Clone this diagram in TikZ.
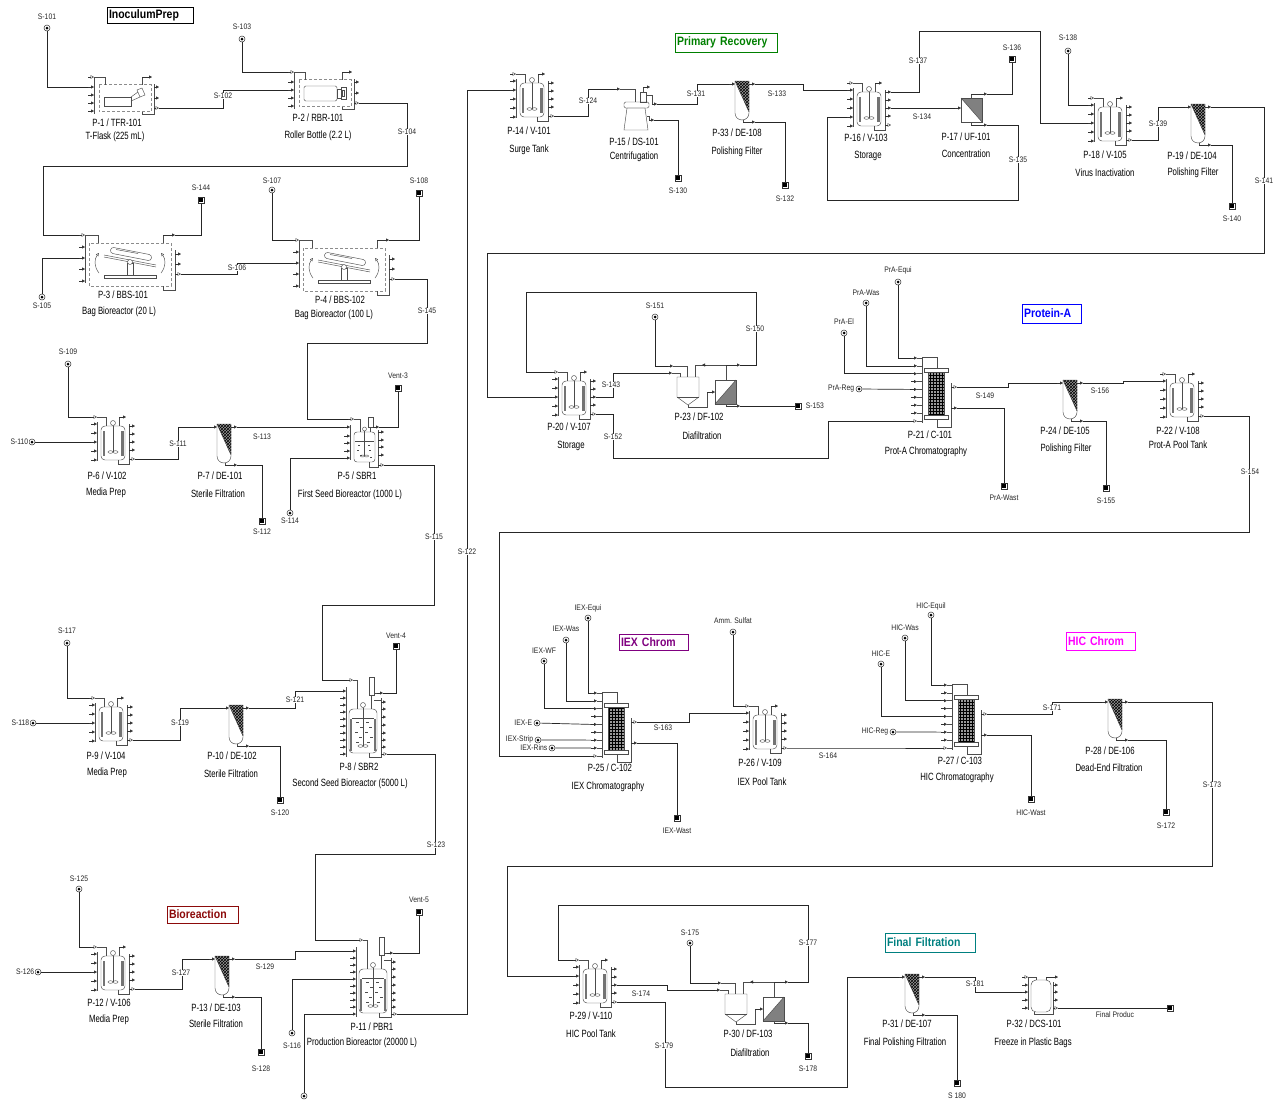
\documentclass[tikz,border=0pt]{standalone}
\usepackage{fontspec}
\setmainfont{Liberation Sans}
\newfontfamily\unitfont{Liberation Sans}[FakeStretch=0.74]
\newfontfamily\strfont{Liberation Sans}[FakeStretch=0.85]
\newfontfamily\sectfont{Liberation Sans}[FakeStretch=0.86]
\usepackage{tikz}
\usetikzlibrary{arrows.meta,patterns}

\definecolor{prgreen}{RGB}{0,128,0}
\definecolor{protblue}{RGB}{0,0,255}
\definecolor{iexpurple}{RGB}{128,0,128}
\definecolor{hicmagenta}{RGB}{255,0,255}
\definecolor{biored}{RGB}{140,10,10}
\definecolor{finteal}{RGB}{0,128,128}

\newcommand\flaskframe{%
  \draw[eq, densely dashed, draw=black!45] (-26,-13.5) rectangle (26,13.5);
  \draw[eq] (-31,-21) -- (-31,16);
  \coordinate (-tin) at (-37,-21);
  \draw[oport] (-37,-21) -- (-31,-21);
  \draw[eq] (-31,-21) -- (-20,-21) -- (-20,-13.5);
  \foreach \k/\y in {1/-11,2/-3,3/5,4/13}{
    \coordinate (-l\k) at (-37,\y);
    \draw[port] (-37,\y) -- (-31,\y);}
  \draw[eq] (17,-13.5) -- (17,-21);
  \coordinate (-tout) at (27,-21);
  \draw[port] (17,-21) -- (27,-21);
  \draw[eq] (29,-14) -- (29,16) -- (17,16) -- (17,13.5);
  \coordinate (-r1) at (34,-11);
  \draw[port] (29,-11) -- (34,-11);
  \coordinate (-r2) at (34,0);
  \draw[port] (29,0) -- (34,0);
  \coordinate (-out) at (34,10);
  \draw[oport] (29,10) -- (34,10);}

\tikzset{
  eq/.style={draw=black!70, line width=0.45pt},
  stream/.style={draw=black!85, line width=0.7pt},
  port/.style={draw=black!80, line width=0.45pt, -{Triangle[length=3pt,width=3pt]}},
  oport/.style={draw=black!80, line width=0.45pt, -{Triangle[open,length=3.5pt,width=3.5pt]}},
  jack/.style={fill=black!55},
  src/.style={circle, draw=black!80, line width=0.5pt, fill=white, minimum size=6pt, inner sep=0pt,
    path picture={\fill[black] (path picture bounding box.center) circle (1.5pt);}},
  snk/.style={rectangle, draw=black!80, line width=0.5pt, fill=white, minimum size=6.5pt, inner sep=0pt,
    path picture={\fill[black] ([xshift=1.4pt,yshift=1.4pt]path picture bounding box.south west)
      rectangle ([xshift=-1.4pt,yshift=-1.4pt]path picture bounding box.north east);}},
  slab/.style={font=\strfont\fontsize{8}{8}\selectfont, text=black!85, fill=white, inner sep=0.6pt},
  ulab/.style={font=\unitfont\fontsize{10.5}{11}\selectfont, inner sep=0pt},
  sect/.style={rectangle, line width=0.8pt, inner sep=2pt, align=left,
    font=\sectfont\bfseries\fontsize{12.2}{12.5}\selectfont},
  pics/vessel/.style={code={
    \draw[eq, rounded corners=4pt] (-12,-17) rectangle (12,17);
    \fill[jack] (-10.5,-12) rectangle (-8,13);
    \fill[jack] (8,-12) rectangle (10.5,13);
    \draw[eq] (0,-17.5) -- (0,9);
    \draw[eq] (0,-20) circle (2.5pt);
    \draw[eq] (-2.5,9) ellipse (2.5pt and 1.3pt);
    \draw[eq] (2.5,9) ellipse (2.5pt and 1.3pt);
    \draw[eq] (-16,-21) -- (-16,18);
    \foreach \k/\y in {1/-19,2/-10,3/-1,4/8,5/17}{
      \coordinate (-l\k) at (-22,\y);
      \draw[port] (-22,\y) -- (-16,\y);}
    \coordinate (-tin) at (-22,-26);
    \draw[oport] (-22,-26) -- (-16,-26);
    \draw[eq] (-16,-26) -- (-7,-26) -- (-7,-17);
    \draw[eq] (6,-17) -- (6,-26);
    \coordinate (-tout) at (13,-26);
    \draw[port] (6,-26) -- (13,-26);
    \draw[eq] (16,-19) -- (16,21) -- (5,21) -- (5,17);
    \foreach \k/\y in {1/-17,2/-9,3/-1,4/7}{
      \coordinate (-r\k) at (22,\y);
      \draw[port] (16,\y) -- (22,\y);}
    \coordinate (-out) at (22,16);
    \draw[oport] (16,16) -- (22,16);}},
  pics/seedbr/.style={code={
    \draw[eq, rounded corners=3pt] (-10,-15) rectangle (11,15);
    \draw[eq] (-9,-6) -- (10,-6);
    \foreach \x/\y in {-6/-2,4/-2,-7/3,5/3,-4/8,6/10}{\draw[eq] (\x,\y) -- ++(2,0);}
    \draw[eq] (0.5,-16) -- (0.5,9);
    \draw[eq] (0.5,-18) circle (2pt);
    \draw[eq] (-1.5,9) ellipse (2pt and 1pt);
    \draw[eq] (2.5,9) ellipse (2pt and 1pt);
    \draw[eq] (4,-30) rectangle (9,-20);
    \draw[eq] (6.5,-20) -- (6.5,-15);
    \coordinate (-tout) at (15,-20);
    \draw[port] (9,-20) -- (15,-20);
    \coordinate (-tin) at (-16,-28);
    \draw[oport] (-16,-28) -- (-10,-28);
    \draw[eq] (-10,-28) -- (-4,-28) -- (-4,-15);
    \draw[eq] (-14,-22) -- (-14,13);
    \foreach \k/\y in {1/-20,2/-11,3/-4,4/4,5/11}{
      \coordinate (-l\k) at (-20,\y);
      \draw[port] (-20,\y) -- (-14,\y);}
    \draw[eq] (14,-17) -- (14,20) -- (5,20) -- (5,15);
    \foreach \k/\y in {1/-15,2/-7,3/0,4/8}{
      \coordinate (-r\k) at (20,\y);
      \draw[port] (14,\y) -- (20,\y);}
    \coordinate (-out) at (20,18);
    \draw[oport] (14,18) -- (20,18);}},
  pics/prodbr/.style={code={
    \draw[eq, rounded corners=4pt] (-14,-22) rectangle (14,22);
    \fill[jack] (-13,-12) rectangle (-11,20);
    \fill[jack] (11,-12) rectangle (13,20);
    \draw[eq] (-11,-13) -- (11,-13);
    \foreach \x/\y in {-7/-9,3/-9,-3/-4,6/-4,-8/1,2/1,-4/6,7/6,-7/11,4/11}{\draw[eq] (\x,\y) -- ++(2.5,0);}
    \draw[eq] (0,-23.5) -- (0,15);
    \draw[eq] (0,-26) circle (2.5pt);
    \draw[eq] (-2.5,15) ellipse (2.5pt and 1.3pt);
    \draw[eq] (2.5,15) ellipse (2.5pt and 1.3pt);
    \draw[eq] (6,-54) rectangle (11,-36);
    \draw[eq] (8.5,-36) -- (8.5,-22);
    \draw[eq] (11,-38) -- (14,-38);
    \coordinate (-tout) at (20,-38);
    \draw[port] (14,-38) -- (20,-38);
    \draw[eq] (11,-31) -- (18,-31);
    \coordinate (-tin) at (-16,-51);
    \draw[oport] (-16,-51) -- (-10,-51);
    \draw[eq] (-10,-51) -- (-6,-51) -- (-6,-22);
    \draw[eq] (-17,-44) -- (-17,26);
    \foreach \k in {1,...,10}{
      \pgfmathsetmacro\yy{-47+7*\k}
      \coordinate (-l\k) at (-23,\yy);
      \draw[port] (-23,\yy) -- (-17,\yy);}
    \draw[eq] (18,-33) -- (18,26) -- (6,26) -- (6,22);
    \foreach \y in {-29,-22,-14,-6,2,9,16}{\draw[port] (18,\y) -- (23,\y);}
    \coordinate (-out) at (24,23);
    \draw[oport] (18,23) -- (24,23);}},
  pics/filt/.style={code={
    \fill[black!40] (-7,-19) -- (7,-19) -- (7,12) -- cycle;
    \fill[pattern=crosshatch, pattern color=black] (-7,-19) -- (7,-19) -- (7,12) -- cycle;
    \draw[eq] (-7,-19) -- (7,-19) [rounded corners=6.9pt] -- (7,20) -- (-7,20) [sharp corners] -- cycle;
    \draw[eq] (-7,-19) -- (7,12);
    \coordinate (-in) at (-13,-16);
    \draw[port] (-13,-16) -- (-7,-16);
    \coordinate (-top) at (13,-16);
    \draw[port] (7,-16) -- (13,-16);
    \draw[eq] (1,20) -- (1,22);
    \coordinate (-bot) at (13,22);
    \draw[port] (1,22) -- (13,22);}},
  pics/column/.style={code={
    \fill[black!40] (-8,-21) rectangle (8,22);
    \fill[pattern=grid, pattern color=black] (-8,-21) rectangle (8,22);
    \draw[eq] (-8,-21) rectangle (8,22);
    \draw[eq, fill=white] (-12,-25) rectangle (12,-21);
    \draw[eq, fill=white] (-12,22) rectangle (12,26);
    \draw[eq] (-14,-36) -- (-14,30);
    \draw[eq] (-14,-36) -- (1,-36) -- (1,-25);
    \draw[eq] (1,26) -- (1,34) -- (15,34) -- (15,-10);
    \foreach \k in {1,...,8}{
      \pgfmathsetmacro\yy{-42.85+7.85*\k}
      \coordinate (-l\k) at (-25,\yy);
      \draw[port] (-25,\yy) -- (-19,\yy);
      \draw[eq] (-19,\yy) -- (-14,\yy);}
    \coordinate (-bin) at (-26,28);
    \draw[oport] (-26,28) -- (-19,28);
    \draw[eq] (-19,28) -- (-14,28);
    \coordinate (-o1) at (21,-6);
    \draw[oport] (15,-6) -- (21,-6);
    \coordinate (-o2) at (21,15);
    \draw[port] (15,15) -- (21,15);}},
  pics/diaf/.style={code={
    \draw[eq] (-11,-14) -- (-11,6) -- (0,14) -- (11,6) -- (11,-14) -- cycle;
    \draw[eq] (-11,6) -- (11,6);
    \coordinate (-in1) at (-20,-25);
    \draw[port] (-20,-25) -- (-15,-25);
    \draw[eq] (-15,-25) -- (-1,-25) -- (-1,-14);
    \coordinate (-in2) at (-21,-18);
    \draw[port] (-21,-18) -- (-16,-18);
    \draw[eq] (-16,-18) -- (-8,-18) -- (-8,-14);
    \draw[eq] (0,14) -- (0,16) -- (19,16) -- (19,1);
    \draw[port] (19,1) -- (27,1);
    \fill[black!50] (48,-11) -- (48,13) -- (27,13) -- cycle;
    \draw[eq] (27,-11) rectangle (48,13);
    \draw[eq] (48,-11) -- (27,13);
    \draw[eq] (38,-11) -- (38,-26) -- (7,-26) -- (7,-14);
    \draw[port] (18,-26) -- (14,-26);
    \coordinate (-rec) at (52,-26);
    \draw[port] (38,-26) -- (52,-26);
    \draw[eq] (38,13) -- (38,15);
    \coordinate (-perm) at (52,15);
    \draw[port] (38,15) -- (52,15);}},
  pics/centr/.style={code={
    \coordinate (-in) at (-21,-21);
    \draw[port] (-21,-21) -- (-16,-21);
    \draw[eq] (-16,-21) -- (-1,-21) -- (-1,-8);
    \draw[eq] (4,-18) rectangle (10,-8);
    \draw[eq] (7,-18) -- (7,-23);
    \draw[port] (7,-23) -- (14,-23);
    \draw[eq, rounded corners=1.5pt] (-12,-8) rectangle (13,-2);
    \draw[eq] (-9,-2) -- (9,-2) -- (12,20) -- (-12,20) -- cycle;
    \draw[eq] (10,-15) -- (16,-15) -- (16,-6);
    \coordinate (-liq) at (21,-6);
    \draw[port] (16,-6) -- (21,-6);
    \draw[eq] (11,6) -- (13,6) -- (13,10);
    \coordinate (-sol) at (18,10);
    \draw[port] (13,10) -- (18,10);}},
  pics/uf/.style={code={
    \fill[black!50] (-10,-12) -- (11,-12) -- (11,12) -- cycle;
    \draw[eq] (-10,-12) rectangle (11,12);
    \draw[eq] (-10,-12) -- (11,12);
    \coordinate (-in) at (-16,-2);
    \draw[port] (-16,-2) -- (-10,-2);
    \draw[eq] (0,-12) -- (0,-16);
    \coordinate (-ret) at (16,-16);
    \draw[port] (0,-16) -- (16,-16);
    \draw[eq] (0,12) -- (0,15);
    \coordinate (-perm) at (16,15);
    \draw[port] (0,15) -- (16,15);}},
  pics/dcs/.style={code={
    \draw[eq, rounded corners=5pt] (-10,-16) rectangle (10,16);
    \draw[eq] (-13,-19) -- (-13,14);
    \coordinate (-tin) at (-19,-19);
    \draw[oport] (-19,-19) -- (-13,-19);
    \draw[eq] (-13,-19) -- (-5,-19) -- (-5,-16);
    \foreach \k/\y in {1/-11,2/-4,3/4,4/12}{
      \coordinate (-l\k) at (-19,\y);
      \draw[port] (-19,\y) -- (-13,\y);}
    \draw[eq] (5,-16) -- (5,-19);
    \draw[port] (5,-19) -- (17,-19);
    \draw[eq] (12,-14) -- (12,18) -- (-7,18) -- (-7,16);
    \foreach \y in {-11,-4,4}{\draw[port] (12,\y) -- (17,\y);}
    \coordinate (-out) at (17,12);
    \draw[oport] (12,12) -- (17,12);}},
  pics/tflask/.style={code={
    \flaskframe
    \draw[eq] (-21,-1) rectangle (6,8);
    \draw[eq] (6,-1) -- (13,-6);
    \draw[eq] (6,3) -- (15,-1);
    \draw[eq] (12,-8) -- (17,-10) -- (20,-3) -- (15,-1) -- cycle;}},
  pics/roller/.style={code={
    \flaskframe
    \draw[eq, rounded corners=1.5pt] (-21,-7) rectangle (12,8);
    \draw[eq] (12,-4) rectangle (16,5);
    \draw[eq] (16,-6) rectangle (21,6);
    \draw[eq] (17.5,-3) rectangle (19.5,3);}},
  pics/bag/.style={code={
    \draw[eq, densely dashed, draw=black!45] (-41,-21) rectangle (41,22);
    \draw[eq] (-26,11) rectangle (26,14);
    \draw[eq] (-3,-1) rectangle (3,11);
    \draw[eq] (-26,-9) -- (26,1);
    \draw[eq] (-26,-7) -- (26,3);
    \draw[eq, fill=white] (0,-2) circle (2.5pt);
    \draw[eq, rounded corners=3pt] (-19,-17) -- (22,-9) -- (21,-3) -- (-20,-11) -- cycle;
    \draw[eq] (-14,-14.5) -- (8,-10.5);
    \draw[eq, -{Triangle[open,length=3pt,width=3pt]}] (-31,9) .. controls (-36,3) and (-36,-5) .. (-31,-11);
    \draw[eq, -{Triangle[open,length=3pt,width=3pt]}] (31,9) .. controls (36,3) and (36,-5) .. (31,-11);
    \draw[eq] (-45,-29) -- (-45,19);
    \coordinate (-tin) at (-51,-29);
    \draw[oport] (-51,-29) -- (-45,-29);
    \draw[eq] (-45,-29) -- (-32,-29) -- (-32,-21);
    \foreach \k/\y in {1/-17,2/-6,3/5,4/17}{
      \coordinate (-l\k) at (-51,\y);
      \draw[port] (-51,\y) -- (-45,\y);}
    \draw[eq] (33,-21) -- (33,-29);
    \coordinate (-tout) at (45,-29);
    \draw[port] (33,-29) -- (45,-29);
    \draw[eq] (45,-14) -- (45,26) -- (33,26) -- (33,22);
    \foreach \k/\y in {1/-10,2/0}{
      \coordinate (-r\k) at (51,\y);
      \draw[port] (45,\y) -- (51,\y);}
    \coordinate (-out) at (51,10);
    \draw[oport] (45,10) -- (51,10);}}
}

\begin{document}
\begin{tikzpicture}[x=1pt,y=-1pt]
\fill[white] (0,0) rectangle (1278,1101);
\useasboundingbox (0,0) rectangle (1278,1101);

\pic (p1) at (125,98) {tflask};
\pic (p2) at (325,93) {roller};
\pic (p3) at (130,264) {bag};
\pic (p4) at (344,269) {bag};
\pic (p6) at (113,443) {vessel};
\pic (p7) at (224,443) {filt};
\pic (p5) at (364,447) {seedbr};
\pic (p9) at (111,724) {vessel};
\pic (p10) at (236,724) {filt};
\pic (p8) at (363,731) {prodbr};
\pic (p12) at (113,973) {vessel};
\pic (p13) at (222,975) {filt};
\pic (p11) at (373,991) {prodbr};
\pic (p14) at (532,100) {vessel};
\pic (p15) at (636,110) {centr};
\pic (p33) at (742,100) {filt};
\pic (p16) at (869,109) {vessel};
\pic (p17) at (971,110) {uf};
\pic (p18) at (1110,124) {vessel};
\pic (p19) at (1198,123) {filt};
\pic (p20) at (574,398) {vessel};
\pic (p23) at (688,391) {diaf};
\pic (p21) at (936,393) {column};
\pic (p24) at (1070,399) {filt};
\pic (p22) at (1182,400) {vessel};
\pic (p25) at (616,728) {column};
\pic (p26) at (765,732) {vessel};
\pic (p27) at (966,720) {column};
\pic (p28) at (1115,718) {filt};
\pic (p29) at (595,986) {vessel};
\pic (p30) at (736,1008) {diaf};
\pic (p31) at (912,993) {filt};
\pic (p32) at (1041,996) {dcs};

\node (s101) at (47,28) [src] {};
\node (s103) at (242,39) [src] {};
\node (s105) at (42,297) [src] {};
\node (s107) at (272,190) [src] {};
\node (s109) at (68,364) [src] {};
\node (s110) at (32,442) [src] {};
\node (s114) at (290,513) [src] {};
\node (s117) at (67,643) [src] {};
\node (s118) at (33,723) [src] {};
\node (s125) at (79,889) [src] {};
\node (s126) at (38,972) [src] {};
\node (s116) at (292,1033) [src] {};
\node (sbot) at (304,1096) [src] {};
\node (s138) at (1068,51) [src] {};
\node (s151) at (655,317) [src] {};
\node (pequi) at (898,282) [src] {};
\node (pwash) at (866,303) [src] {};
\node (pelu) at (844,333) [src] {};
\node (preg) at (859,389) [src] {};
\node (iequi) at (588,618) [src] {};
\node (iwash) at (566,640) [src] {};
\node (iwf) at (544,661) [src] {};
\node (ielu) at (537,723) [src] {};
\node (istrip) at (538,740) [src] {};
\node (irinse) at (552,748) [src] {};
\node (samm) at (733,632) [src] {};
\node (hequi) at (931,615) [src] {};
\node (hwash) at (905,638) [src] {};
\node (helu) at (881,664) [src] {};
\node (hreg) at (893,732) [src] {};
\node (s175) at (690,943) [src] {};

\node (s144) at (201,200) [snk] {};
\node (s108) at (419,193) [snk] {};
\node (s112) at (262,521) [snk] {};
\node (vent3) at (398,388) [snk] {};
\node (s120) at (280,800) [snk] {};
\node (vent4) at (396,646) [snk] {};
\node (s128) at (261,1052) [snk] {};
\node (vent5) at (419,912) [snk] {};
\node (s130) at (678,178) [snk] {};
\node (s132) at (785,185) [snk] {};
\node (s136) at (1012,59) [snk] {};
\node (s140) at (1232,206) [snk] {};
\node (s153) at (798,406) [snk] {};
\node (pwaste) at (1004,486) [snk] {};
\node (s155) at (1106,488) [snk] {};
\node (iwaste) at (677,818) [snk] {};
\node (hwaste) at (1031,799) [snk] {};
\node (s172) at (1166,812) [snk] {};
\node (s178) at (808,1056) [snk] {};
\node (s180) at (957,1083) [snk] {};
\node (sfinal) at (1170,1008) [snk] {};

\draw[stream] (s101) |- (p1-l1);
\draw[stream] (p1-out) -- ++(64,0) |- (p2-l2);
\draw[stream] (s103) |- (p2-tin);
\draw[stream] (p2-out) -- ++(48,0) |- (43,166) |- (p3-tin);
\draw[stream] (s105) |- (p3-l2);
\draw[stream] (p3-tout) -| (s144);
\draw[stream] (p3-out) -- ++(56,0) |- (p4-l2);
\draw[stream] (s107) |- (p4-tin);
\draw[stream] (p4-tout) -| (s108);
\draw[stream] (p4-out) -- ++(32,0) |- (307,343) |- (p5-tin);
\draw[stream] (s109) |- (p6-tin);
\draw[stream] (s110) -- (p6-l3);
\draw[stream] (p6-out) -- ++(43,0) |- (p7-in);
\draw[stream] (p7-bot) -| (s112);
\draw[stream] (p7-top) -- (p5-l1);
\draw[stream] (s114) |- (p5-l5);
\draw[stream] (p5-tout) -| (vent3);
\draw[stream] (p5-out) -- ++(50,0) |- (322,605) |- (p8-tin);
\draw[stream] (s117) |- (p9-tin);
\draw[stream] (s118) -- (p9-l3);
\draw[stream] (p9-out) -- ++(47,0) |- (p10-in);
\draw[stream] (p10-bot) -| (s120);
\draw[stream] (p10-top) -- ++(46,0) |- (p8-l1);
\draw[stream] (p8-tout) -| (vent4);
\draw[stream] (p8-out) -- ++(48,0) |- (315,854) |- (p11-tin);
\draw[stream] (s125) |- (p12-tin);
\draw[stream] (s126) -- (p12-l3);
\draw[stream] (p12-out) -- ++(47,0) |- (p13-in);
\draw[stream] (p13-bot) -| (s128);
\draw[stream] (p13-top) -- ++(60,0) |- (p11-l1);
\draw[stream] (s116) |- (p11-l5);
\draw[stream] (sbot) |- (p11-l10);
\draw[stream] (p11-tout) -| (vent5);
\draw[stream] (p11-out) -- ++(70,0) |- (p14-l2);
\draw[stream] (p14-out) -- ++(34,0) |- (p15-in);
\draw[stream] (p15-liq) -- ++(40,0) |- (p33-in);
\draw[stream] (p15-sol) -| (s130);
\draw[stream] (p33-top) -- ++(48,0) |- (p16-l1);
\draw[stream] (p33-bot) -| (s132);
\draw[stream] (p16-r1) -- ++(28,0) |- (1040,31) |- (p18-l3);
\draw[stream] (p16-r3) -- (p17-in);
\draw[stream] (p17-ret) -| (s136);
\draw[stream] (p17-perm) -- ++(31,0) |- (827,200) |- (p16-l4);
\draw[stream] (s138) |- (p18-l1);
\draw[stream] (p18-out) -- ++(26,0) |- (p19-in);
\draw[stream] (p19-bot) -| (s140);
\draw[stream] (p19-top) -- ++(53,0) |- (487,253) |- (p20-l3);
\draw[stream] (p20-r3) -- ++(17,0) |- (p23-in2);
\draw[stream] (s151) |- (p23-in1);
\draw[stream] (p23-rec) -- ++(16,0) |- (526,292) |- (p20-tin);
\draw[stream] (p23-perm) -- (s153);
\draw[stream] (p20-out) -- ++(17,0) |- (828,458) |- (p21-bin);
\draw[stream] (pequi) |- (p21-l1);
\draw[stream] (pwash) |- (p21-l2);
\draw[stream] (pelu) |- (p21-l3);
\draw[stream] (preg) -- (p21-l5);
\draw[stream] (p21-o1) -- ++(51,0) |- (p24-in);
\draw[stream] (p21-o2) -| (pwaste);
\draw[stream] (p24-top) -- ++(40,0) |- (p22-l1);
\draw[stream] (p24-bot) -| (s155);
\draw[stream] (p22-out) -- ++(45,0) |- (499,532) |- (p25-bin);
\draw[stream] (iequi) |- (p25-l1);
\draw[stream] (iwash) |- (p25-l2);
\draw[stream] (iwf) |- (p25-l3);
\draw[stream] (ielu) -- (p25-l5);
\draw[stream] (istrip) -- (p25-l7);
\draw[stream] (irinse) -- (p25-l8);
\draw[stream] (p25-o1) -- ++(52,0) |- (p26-l1);
\draw[stream] (p25-o2) -| (iwaste);
\draw[stream] (samm) |- (p26-tin);
\draw[stream] (p26-out) -- ++(85,0) |- (p27-bin);
\draw[stream] (hequi) |- (p27-l1);
\draw[stream] (hwash) |- (p27-l3);
\draw[stream] (helu) |- (p27-l5);
\draw[stream] (hreg) -- (p27-l7);
\draw[stream] (p27-o1) -- ++(65,0) |- (p28-in);
\draw[stream] (p27-o2) -| (hwaste);
\draw[stream] (p28-top) -- ++(84,0) |- (507,866) |- (p29-l2);
\draw[stream] (p28-bot) -| (s172);
\draw[stream] (p30-rec) -- ++(20,0) |- (558,905) |- (p29-tin);
\draw[stream] (s175) |- (p30-in1);
\draw[stream] (p29-r3) -- ++(50,0) |- (p30-in2);
\draw[stream] (p30-perm) -| (s178);
\draw[stream] (p29-out) -- ++(48,0) |- (847,1087) |- (p31-in);
\draw[stream] (p31-bot) -| (s180);
\draw[stream] (p31-top) -- ++(50,0) |- (p32-l2);
\draw[stream] (p32-out) -- (sfinal);

\node (t101) at (47,17) [slab] {S-101};
\node (t102) at (223,96) [slab] {S-102};
\node (t103) at (242,27) [slab] {S-103};
\node (t104) at (407,132) [slab] {S-104};
\node (t105) at (42,306) [slab] {S-105};
\node (t144) at (201,188) [slab] {S-144};
\node (t106) at (237,268) [slab] {S-106};
\node (t107) at (272,181) [slab] {S-107};
\node (t108) at (419,181) [slab] {S-108};
\node (t145) at (427,311) [slab] {S-145};
\node (t109) at (68,352) [slab] {S-109};
\node (t110) at (29,442) [slab, anchor=east] {S-110};
\node (t111) at (178,444) [slab] {S-111};
\node (t112) at (262,532) [slab] {S-112};
\node (t113) at (262,437) [slab] {S-113};
\node (t114) at (290,521) [slab] {S-114};
\node (tv3) at (398,376) [slab] {Vent-3};
\node (t115) at (434,537) [slab] {S-115};
\node (t117) at (67,631) [slab] {S-117};
\node (t118) at (30,723) [slab, anchor=east] {S-118};
\node (t119) at (180,723) [slab] {S-119};
\node (t120) at (280,813) [slab] {S-120};
\node (t121) at (295,700) [slab] {S-121};
\node (tv4) at (396,636) [slab] {Vent-4};
\node (t123) at (436,845) [slab] {S-123};
\node (t125) at (79,879) [slab] {S-125};
\node (t126) at (35,972) [slab, anchor=east] {S-126};
\node (t127) at (181,973) [slab] {S-127};
\node (t128) at (261,1069) [slab] {S-128};
\node (t129) at (265,967) [slab] {S-129};
\node (t116) at (292,1046) [slab] {S-116};
\node (tv5) at (419,900) [slab] {Vent-5};
\node (t122) at (467,552) [slab] {S-122};
\node (t124) at (588,101) [slab] {S-124};
\node (t131) at (696,94) [slab] {S-131};
\node (t130) at (678,191) [slab] {S-130};
\node (t133) at (777,94) [slab] {S-133};
\node (t132) at (785,199) [slab] {S-132};
\node (t137) at (918,61) [slab] {S-137};
\node (t134) at (922,117) [slab] {S-134};
\node (t136) at (1012,48) [slab] {S-136};
\node (t135) at (1018,160) [slab] {S-135};
\node (t138) at (1068,38) [slab] {S-138};
\node (t139) at (1158,124) [slab] {S-139};
\node (t140) at (1232,219) [slab] {S-140};
\node (t141) at (1264,181) [slab] {S-141};
\node (t143) at (611,385) [slab] {S-143};
\node (t151) at (655,306) [slab] {S-151};
\node (t150) at (755,329) [slab] {S-150};
\node (t153) at (805,406) [slab, anchor=west] {S-153};
\node (t152) at (613,437) [slab] {S-152};
\node (tpequi) at (898,270) [slab] {PrA-Equi};
\node (tpwash) at (866,293) [slab] {PrA-Was};
\node (tpelu) at (844,322) [slab] {PrA-El};
\node (tpreg) at (855,389) [slab, anchor=east] {PrA-Reg};
\node (t149) at (985,396) [slab] {S-149};
\node (tpwaste) at (1004,498) [slab] {PrA-Wast};
\node (t156) at (1100,391) [slab] {S-156};
\node (t155) at (1106,501) [slab] {S-155};
\node (t154) at (1250,472) [slab] {S-154};
\node (tiequi) at (588,608) [slab] {IEX-Equi};
\node (tiwash) at (566,629) [slab] {IEX-Was};
\node (tiwf) at (544,651) [slab] {IEX-WF};
\node (tielu) at (533,723) [slab, anchor=east] {IEX-E};
\node (tistrip) at (534,739) [slab, anchor=east] {IEX-Strip};
\node (tirinse) at (548,748) [slab, anchor=east] {IEX-Rins};
\node (t163) at (663,728) [slab] {S-163};
\node (tiwaste) at (677,831) [slab] {IEX-Wast};
\node (tamm) at (733,621) [slab] {Amm. Sulfat};
\node (t164) at (828,756) [slab] {S-164};
\node (thequi) at (931,606) [slab] {HIC-Equil};
\node (thwash) at (905,628) [slab] {HIC-Was};
\node (thelu) at (881,654) [slab] {HIC-E};
\node (threg) at (889,732) [slab, anchor=east] {HIC-Reg};
\node (t171) at (1052,708) [slab] {S-171};
\node (thwaste) at (1031,813) [slab] {HIC-Wast};
\node (t173) at (1212,785) [slab] {S-173};
\node (t172) at (1166,826) [slab] {S-172};
\node (t177) at (808,943) [slab] {S-177};
\node (t175) at (690,933) [slab] {S-175};
\node (t174) at (641,994) [slab] {S-174};
\node (t178) at (808,1069) [slab] {S-178};
\node (t179) at (664,1046) [slab] {S-179};
\node (t181) at (975,984) [slab] {S-181};
\node (t180) at (957,1096) [slab] {S 180};
\node (tfinal) at (1115,1015) [slab] {Final Produc};

\node (u1a) at (117,123) [ulab] {P-1 / TFR-101};
\node (u1b) at (115,137) [ulab] {T-Flask (225 mL)};
\node (u2a) at (318,118) [ulab] {P-2 / RBR-101};
\node (u2b) at (318,136) [ulab] {Roller Bottle (2.2 L)};
\node (u3a) at (123,295) [ulab] {P-3 / BBS-101};
\node (u3b) at (119,312) [ulab] {Bag Bioreactor (20 L)};
\node (u4a) at (340,300) [ulab] {P-4 / BBS-102};
\node (u4b) at (334,315) [ulab] {Bag Bioreactor (100 L)};
\node (u6a) at (107,476) [ulab] {P-6 / V-102};
\node (u6b) at (106,493) [ulab] {Media Prep};
\node (u7a) at (220,476) [ulab] {P-7 / DE-101};
\node (u7b) at (218,494) [ulab] {Sterile Filtration};
\node (u5a) at (357,476) [ulab] {P-5 / SBR1};
\node (u5b) at (350,495) [ulab] {First Seed Bioreactor (1000 L)};
\node (u9a) at (106,756) [ulab] {P-9 / V-104};
\node (u9b) at (107,773) [ulab] {Media Prep};
\node (u10a) at (232,756) [ulab] {P-10 / DE-102};
\node (u10b) at (231,774) [ulab] {Sterile Filtration};
\node (u8a) at (359,767) [ulab] {P-8 / SBR2};
\node (u8b) at (350,784) [ulab] {Second Seed Bioreactor (5000 L)};
\node (u12a) at (109,1003) [ulab] {P-12 / V-106};
\node (u12b) at (109,1020) [ulab] {Media Prep};
\node (u13a) at (216,1008) [ulab] {P-13 / DE-103};
\node (u13b) at (216,1024) [ulab] {Sterile Filtration};
\node (u11a) at (372,1027) [ulab] {P-11 / PBR1};
\node (u11b) at (362,1043) [ulab] {Production Bioreactor (20000 L)};
\node (u14a) at (529,131) [ulab] {P-14 / V-101};
\node (u14b) at (529,150) [ulab] {Surge Tank};
\node (u15a) at (634,142) [ulab] {P-15 / DS-101};
\node (u15b) at (634,157) [ulab] {Centrifugation};
\node (u33a) at (737,133) [ulab] {P-33 / DE-108};
\node (u33b) at (737,152) [ulab] {Polishing Filter};
\node (u16a) at (866,138) [ulab] {P-16 / V-103};
\node (u16b) at (868,156) [ulab] {Storage};
\node (u17a) at (966,137) [ulab] {P-17 / UF-101};
\node (u17b) at (966,154) [ulab] {Concentration};
\node (u18a) at (1105,155) [ulab] {P-18 / V-105};
\node (u18b) at (1105,173) [ulab] {Virus Inactivation};
\node (u19a) at (1192,156) [ulab] {P-19 / DE-104};
\node (u19b) at (1193,173) [ulab] {Polishing Filter};
\node (u20a) at (569,427) [ulab] {P-20 / V-107};
\node (u20b) at (571,446) [ulab] {Storage};
\node (u23a) at (699,417) [ulab] {P-23 / DF-102};
\node (u23b) at (702,436) [ulab] {Diafiltration};
\node (u21a) at (930,435) [ulab] {P-21 / C-101};
\node (u21b) at (926,452) [ulab] {Prot-A Chromatography};
\node (u24a) at (1065,431) [ulab] {P-24 / DE-105};
\node (u24b) at (1066,449) [ulab] {Polishing Filter};
\node (u22a) at (1178,431) [ulab] {P-22 / V-108};
\node (u22b) at (1178,445) [ulab] {Prot-A Pool Tank};
\node (u25a) at (610,768) [ulab] {P-25 / C-102};
\node (u25b) at (608,787) [ulab] {IEX Chromatography};
\node (u26a) at (760,763) [ulab] {P-26 / V-109};
\node (u26b) at (762,782) [ulab] {IEX Pool Tank};
\node (u27a) at (960,761) [ulab] {P-27 / C-103};
\node (u27b) at (957,778) [ulab] {HIC Chromatography};
\node (u28a) at (1110,751) [ulab] {P-28 / DE-106};
\node (u28b) at (1109,768) [ulab] {Dead-End Filtration};
\node (u29a) at (591,1016) [ulab] {P-29 / V-110};
\node (u29b) at (591,1034) [ulab] {HIC Pool Tank};
\node (u30a) at (748,1034) [ulab] {P-30 / DF-103};
\node (u30b) at (750,1053) [ulab] {Diafiltration};
\node (u31a) at (907,1024) [ulab] {P-31 / DE-107};
\node (u31b) at (905,1043) [ulab] {Final Polishing Filtration};
\node (u32a) at (1034,1024) [ulab] {P-32 / DCS-101};
\node (u32b) at (1033,1043) [ulab] {Freeze in Plastic Bags};

\node (secinoc) at (150,15) [sect, draw=black, text=black, minimum height=16pt, text width=82pt] {InoculumPrep};
\node (secprim) at (726,42.5) [sect, draw=prgreen, text=prgreen, minimum height=19pt, text width=98pt] {Primary Recovery};
\node (secprot) at (1051.5,313.5) [sect, draw=protblue, text=protblue, minimum height=19pt, text width=55pt] {Protein-A};
\node (seciex) at (653.5,642) [sect, draw=iexpurple, text=iexpurple, minimum height=16pt, text width=65pt] {IEX Chrom};
\node (sechic) at (1100.5,641) [sect, draw=hicmagenta, text=hicmagenta, minimum height=18pt, text width=65pt] {HIC Chrom};
\node (secbio) at (202.5,914.5) [sect, draw=biored, text=biored, minimum height=17pt, text width=67pt] {Bioreaction};
\node (secfin) at (930,942.5) [sect, draw=finteal, text=finteal, minimum height=19pt, text width=86pt] {Final Filtration};
\end{tikzpicture}
\end{document}
